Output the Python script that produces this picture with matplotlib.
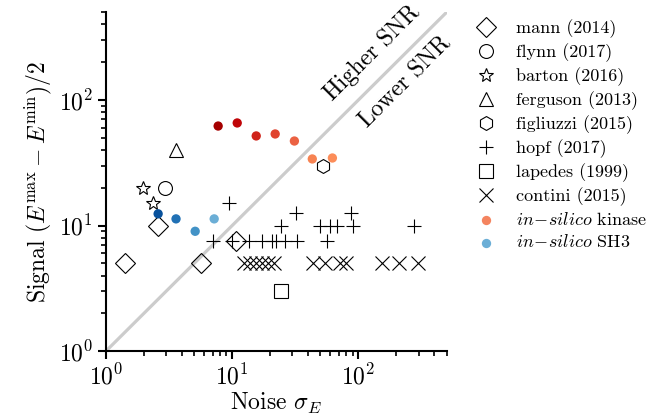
import numpy as np
import matplotlib
matplotlib.use('Agg')
import matplotlib.pyplot as plt

plt.rcParams['font.family'] = 'serif'
plt.rcParams['font.serif'] = ['cmr10']
plt.rcParams['mathtext.fontset'] = 'cm'
plt.rcParams['axes.formatter.use_mathtext'] = True
plt.rcParams['axes.unicode_minus'] = False

# data (noise sigma_E, signal)
mann_x = [1.42, 2.6, 5.7, 10.8]
mann_y = [5.0, 10.0, 5.0, 7.5]
flynn_x = [2.95]
flynn_y = [20.0]
barton_x = [1.97, 2.36]
barton_y = [20.0, 15.0]
ferguson_x = [3.6]
ferguson_y = [40.0]
figliuzzi_x = [52.7]
figliuzzi_y = [30.0]
hopf_x = [9.5, 32.2, 88.0,
          24.5, 50.0, 59.0, 68.0, 91.0, 278.0,
          7.1, 10.0, 13.6, 17.3, 20.8, 22.4, 26.3, 32.8, 56.8]
hopf_y = [15.0, 12.5, 12.5,
          10.0, 10.0, 10.0, 10.0, 10.0, 10.0,
          7.5, 7.5, 7.5, 7.5, 7.5, 7.5, 7.5, 7.5, 7.5]
lapedes_x = [24.5]
lapedes_y = [3.0]
contini_x = [12.4, 13.9, 15.5, 17.3, 19.3, 21.5, 43.9, 54.7, 72.0, 80.0, 155.0, 208.0, 294.0]
contini_y = [5.0] * 13
kinase_x = [7.74, 10.96, 15.5, 21.9, 31.1, 43.1, 62.2]
kinase_y = [62.0, 65.6, 51.7, 53.6, 47.1, 33.9, 34.5]
kinase_colors = ['#a50000', '#c00508', '#d0241a', '#e0432e', '#eb6243', '#f78352', '#fc8d59']
sh3_x = [2.59, 3.59, 5.09, 7.2]
sh3_y = [12.4, 11.3, 9.0, 11.3]
sh3_colors = ['#08519c', '#2171b5', '#4292c6', '#6baed6']

fig = plt.figure(figsize=(6.54, 4.2), dpi=100)
ax = fig.add_axes([0.162, 0.164, 0.521, 0.807])

ax.plot([1, 1000], [1, 1000], color='#cccccc', lw=2.3, zorder=0)
ax.text(129, 237, 'Higher SNR', rotation=45, ha='center', va='center', fontsize=17)
ax.text(236, 139, 'Lower SNR', rotation=45, ha='center', va='center', fontsize=17)

mk = dict(ls='none', mfc='none', mec='black', color='black', ms=10, mew=0.8)
ax.plot(mann_x, mann_y, marker='D', label='mann (2014)', **mk)
ax.plot(flynn_x, flynn_y, marker='o', label='flynn (2017)', **mk)
ax.plot(barton_x, barton_y, marker='*', label='barton (2016)', **mk)
ax.plot(ferguson_x, ferguson_y, marker='^', label='ferguson (2013)', **mk)
ax.plot(figliuzzi_x, figliuzzi_y, marker='h', label='figliuzzi (2015)', **mk)
ax.plot(hopf_x, hopf_y, marker='+', label='hopf (2017)', **mk)
ax.plot(lapedes_x, lapedes_y, marker='s', label='lapedes (1999)', **mk)
ax.plot(contini_x, contini_y, marker='x', label='contini (2015)', **mk)

ax.scatter(kinase_x, kinase_y, c=kinase_colors, s=45, lw=0, zorder=3)
ax.scatter(sh3_x, sh3_y, c=sh3_colors, s=45, lw=0, zorder=3)
ax.scatter([], [], c='#f4845f', s=45, lw=0, label=r'$in\!-\!silico$ kinase')
ax.scatter([], [], c='#6baed6', s=45, lw=0, label=r'$in\!-\!silico$ SH3')

ax.set_xscale('log')
ax.set_yscale('log')
ax.set_xlim(1, 500)
ax.set_ylim(1, 500)
ax.set_xlabel(r'Noise $\sigma_E$', fontsize=17, labelpad=1)
ax.set_ylabel(r'Signal $(E^{\max} - E^{\min})/2$', fontsize=17, labelpad=3)

for s in ['top', 'right']:
    ax.spines[s].set_visible(False)
for s in ['left', 'bottom']:
    ax.spines[s].set_linewidth(1.5)
ax.tick_params(which='major', length=6, width=1.5, labelsize=17)
ax.tick_params(which='minor', length=3.5, width=1.2)

ax.legend(loc='upper left', bbox_to_anchor=(1.04, 1.0), frameon=False,
          fontsize=13, labelspacing=0.29, handletextpad=0.7, borderaxespad=0)

fig.savefig('out.png', dpi=100)
